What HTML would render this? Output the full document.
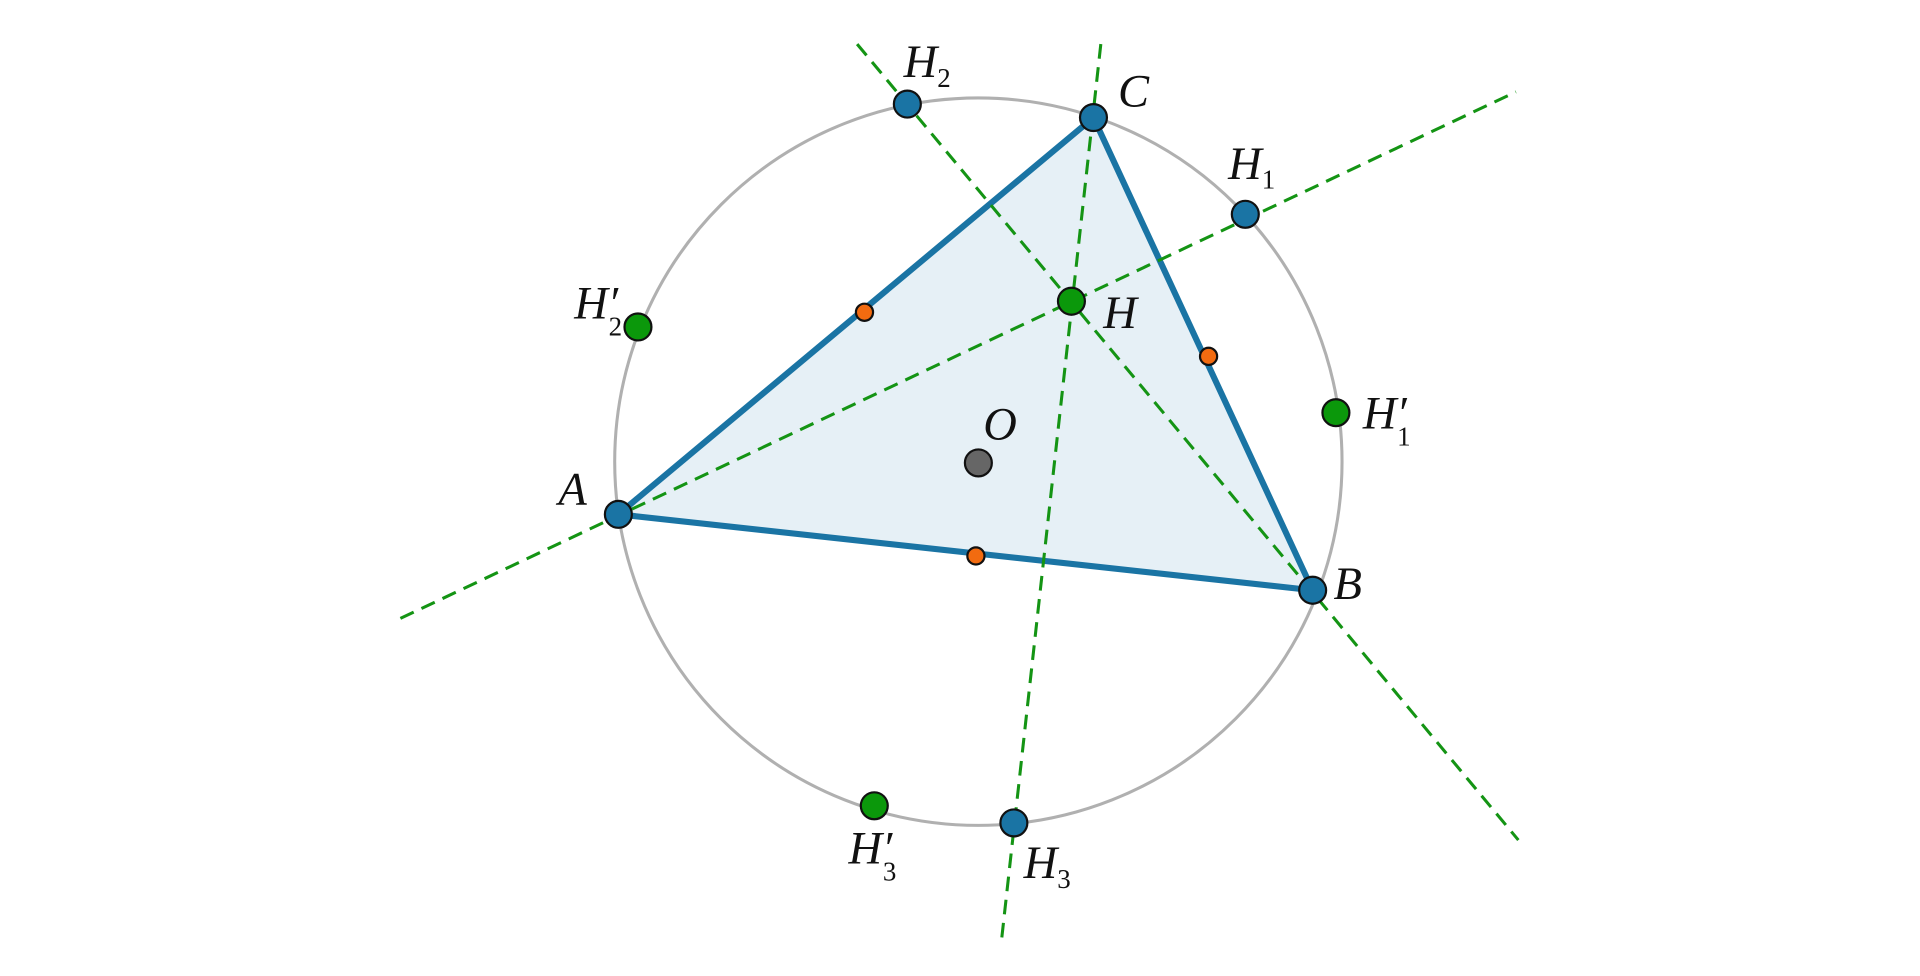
<!DOCTYPE html>
<html><head><meta charset="utf-8"><style>
html,body{margin:0;padding:0;background:#fff;width:1920px;height:976px;overflow:hidden}
text{font-family:"Liberation Serif",serif;font-style:italic;font-size:38px;fill:#111}
.sub{font-size:22px;font-style:normal}
</style></head><body>
<svg width="1920" height="976" viewBox="0 0 1568 797" preserveAspectRatio="none" xmlns="http://www.w3.org/2000/svg">
<circle cx="799" cy="377" r="297" fill="none" stroke="#b0b0b0" stroke-width="2.5"/>
<polygon points="505,420 1072,482 893,96" fill="#e6f0f6" stroke="#1a74a4" stroke-width="5" stroke-linejoin="round"/>
<g stroke="#149414" stroke-width="2.5" stroke-dasharray="12,7" fill="none">
<line x1="327" y1="505" x2="1238" y2="75"/>
<line x1="700" y1="36" x2="1240" y2="686"/>
<line x1="899" y1="36" x2="818" y2="767"/>
</g>
<g stroke="#111" stroke-width="1.8">
<circle cx="706" cy="255" r="7" fill="#f26b10"/>
<circle cx="987" cy="291" r="7" fill="#f26b10"/>
<circle cx="797" cy="454" r="7" fill="#f26b10"/>
<circle cx="799" cy="378" r="11" fill="#666"/>
<circle cx="875" cy="246" r="11" fill="#0b980b"/>
<circle cx="1091" cy="337" r="11" fill="#0b980b"/>
<circle cx="521" cy="267" r="11" fill="#0b980b"/>
<circle cx="714" cy="658" r="11" fill="#0b980b"/>
<circle cx="505" cy="420" r="11" fill="#1a74a4"/>
<circle cx="1072" cy="482" r="11" fill="#1a74a4"/>
<circle cx="893" cy="96" r="11" fill="#1a74a4"/>
<circle cx="1017" cy="175" r="11" fill="#1a74a4"/>
<circle cx="741" cy="85" r="11" fill="#1a74a4"/>
<circle cx="828" cy="672" r="11" fill="#1a74a4"/>
</g>
<text x="738" y="63">H<tspan class="sub" dy="8">2</tspan></text>
<text x="913" y="87">C</text>
<text x="1003" y="146">H<tspan class="sub" dy="8">1</tspan></text>
<text x="901" y="268">H</text>
<text x="469" y="260">H′</text><text class="sub" x="497" y="274">2</text>
<text x="1113" y="350">H′</text><text class="sub" x="1141" y="364">1</text>
<text x="803" y="359">O</text>
<text x="456" y="412">A</text>
<text x="1089" y="489">B</text>
<text x="693" y="705">H′</text><text class="sub" x="721" y="719">3</text>
<text x="836" y="717">H<tspan class="sub" dy="8">3</tspan></text>
</svg>
</body></html>
